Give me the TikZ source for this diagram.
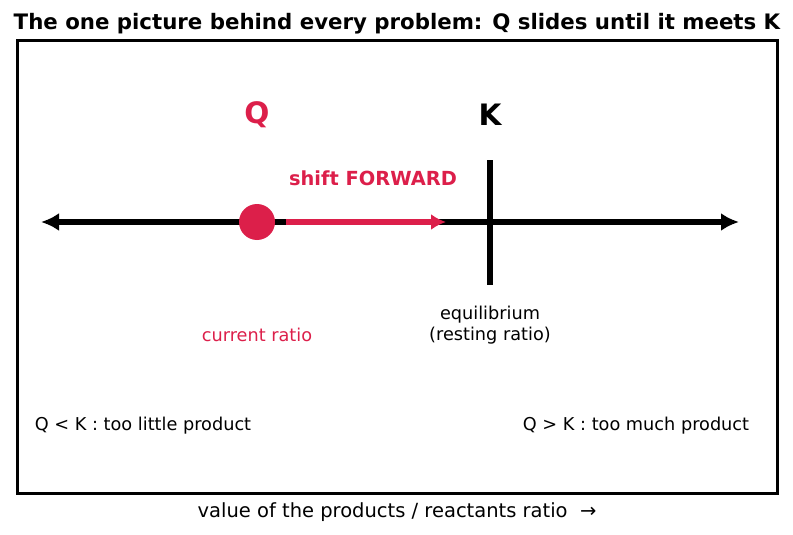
\documentclass[tikz,border=0pt]{standalone}
\usepackage{fontspec}
\setmainfont{DejaVu Sans}
\usetikzlibrary{arrows.meta}

\definecolor{qred}{RGB}{220,31,74}

\begin{document}
\begin{tikzpicture}[
  x=1pt, y=-1pt,
  axisline/.style={line width=5.2pt, {Latex[length=18pt, width=18pt]}-{Latex[length=18pt, width=18pt]}},
  shiftarrow/.style={line width=5.2pt, qred, -{Latex[length=15pt, width=16pt]}},
  txt/.style={font=\fontsize{17.7}{21}\selectfont, align=center},
  big/.style={font=\fontsize{29.5}{32}\selectfont\bfseries},
]
\useasboundingbox (0,0) rectangle (793,535);

% title and frame
\node[font=\fontsize{21.3}{24}\selectfont\bfseries] (title) at (397,24) {The one picture behind every problem: Q slides until it meets K};
\draw[line width=3pt] (17,41) rectangle (777,493);

% the number line
\coordinate (L) at (41,222);
\coordinate (R) at (739,222);
\draw[axisline] (L) -- (R);

% K mark
\coordinate (Ktop) at (490,160);
\coordinate (Kbot) at (490,285);
\draw[line width=5.2pt] (Ktop) -- (Kbot);
\node[big] (K) at (490,115) {K};

% Q point and the shift
\node[circle, fill=qred, minimum size=36pt, inner sep=0pt] (Q) at (257,222) {};
\node[big, qred] (Qlab) at (257,115) {Q};
\coordinate (S0) at (286,222);
\coordinate (S1) at (446,222);
\draw[shiftarrow] (S0) -- (S1);
\node[qred, font=\fontsize{19.4}{22}\selectfont\bfseries] (shift) at (373,178) {shift FORWARD};

% labels under the line
\node[txt, qred] (cur) at (257,335) {current ratio};
\node[txt] (eq) at (490,325) {equilibrium\\(resting ratio)};
\node[txt] (less) at (143,426) {Q < K : too little product};
\node[txt] (more) at (636,426) {Q > K : too much product};

% axis label
\node[font=\fontsize{19.5}{22}\selectfont] (xlab) at (397,512) {value of the products / reactants ratio~~→};

\end{tikzpicture}
\end{document}
